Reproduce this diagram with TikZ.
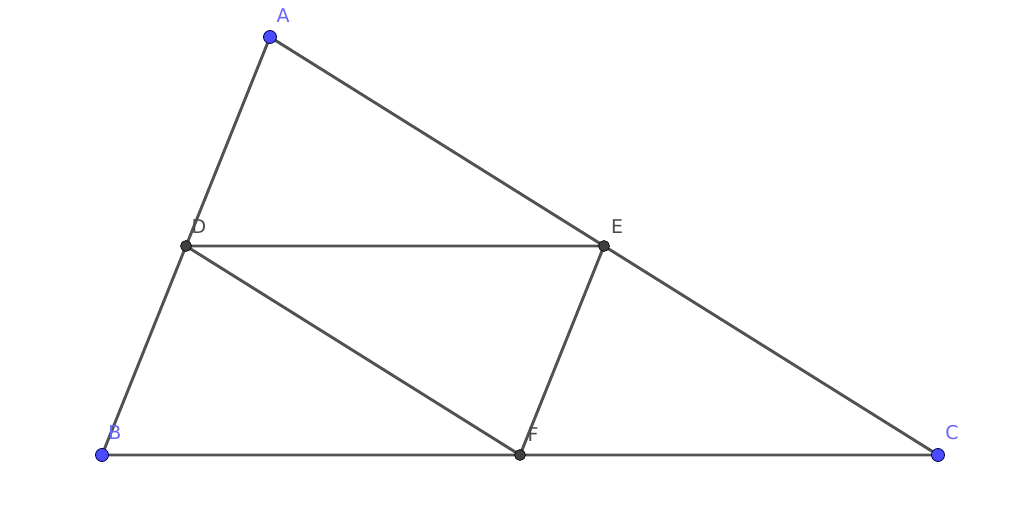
\documentclass[tikz,border=0pt]{standalone}
\usepackage{fontspec}
\setmainfont{DejaVu Sans}
\begin{document}
\begin{tikzpicture}[x=1pt,y=1pt,
  seg/.style={draw=black!68, line width=2.9pt},
  bpt/.style={circle, fill=blue!70!white, draw=blue!30!black, line width=0.8pt, inner sep=0pt, minimum size=13pt},
  kpt/.style={circle, fill=black!75, draw=black, line width=0.6pt, inner sep=0pt, minimum size=11pt},
  blab/.style={text=blue!60!white, font=\fontsize{19}{19}\selectfont, inner sep=0pt},
  klab/.style={text=black!70, font=\fontsize{19}{19}\selectfont, inner sep=0pt}]
\useasboundingbox (0,0) rectangle (1024,505);
\coordinate (A) at (270,468);
\coordinate (B) at (102,50);
\coordinate (C) at (938,50);
\coordinate (D) at (186,259);
\coordinate (E) at (604,259);
\coordinate (F) at (520,50);
\draw[seg] (A) -- (B) -- (C) -- cycle;
\draw[seg] (D) -- (E) -- (F) -- (D);
\node[bpt] (pA) at (A) {};
\node[bpt] (pB) at (B) {};
\node[bpt] (pC) at (C) {};
\node[kpt] (pD) at (D) {};
\node[kpt] (pE) at (E) {};
\node[kpt] (pF) at (F) {};
\node[blab] (lA) at (283,489) {A};
\node[blab] (lB) at (115,72) {B};
\node[blab] (lC) at (952,72) {C};
\node[klab] (lD) at (199,278) {D};
\node[klab] (lE) at (617,278) {E};
\node[klab] (lF) at (533,70) {F};
\end{tikzpicture}
\end{document}
